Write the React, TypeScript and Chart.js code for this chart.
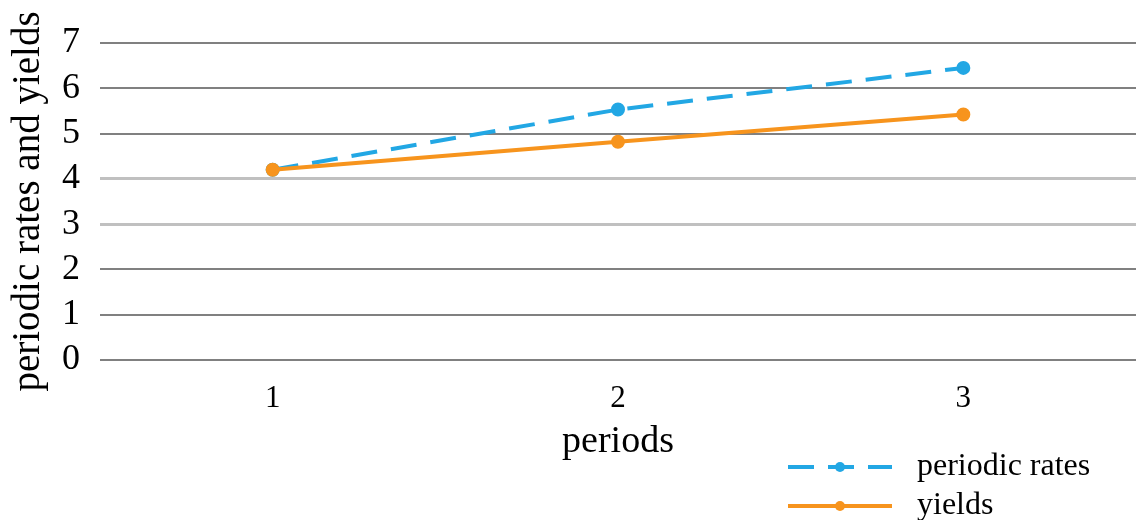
import React, { useEffect, useRef } from "react";
import { Chart, registerables } from "chart.js";

Chart.register(...registerables);

const periods = ["1", "2", "3"];
const periodicRates = [4.2, 5.53, 6.45];
const yields = [4.2, 4.82, 5.42];
const seriesLabels = ["periodic rates", "yields"];
const yTitle = "periodic rates and yields";
const xTitle = "periods";

const FONT = "'Liberation Serif', 'Times New Roman', serif";
const BLUE = "#22a7e4";
const ORANGE = "#f7941d";

const legendPlugin = {
  id: "customLegend",
  afterDraw(chart: any) {
    const ctx = chart.ctx;
    const ds = chart.data.datasets;
    const x0 = 788;
    const x1 = 892;
    const ys = [467, 506];
    ds.forEach((d: any, i: number) => {
      const y = ys[i];
      ctx.save();
      ctx.strokeStyle = d.borderColor;
      ctx.lineWidth = 4;
      ctx.setLineDash(d.borderDash || []);
      ctx.beginPath();
      ctx.moveTo(x0, y);
      ctx.lineTo(x1, y);
      ctx.stroke();
      ctx.setLineDash([]);
      ctx.fillStyle = d.pointBackgroundColor;
      ctx.beginPath();
      ctx.arc((x0 + x1) / 2, y, 5, 0, Math.PI * 2);
      ctx.fill();
      ctx.fillStyle = "#000";
      ctx.font = `32px ${FONT}`;
      ctx.textBaseline = "middle";
      ctx.textAlign = "left";
      ctx.fillText(d.label, 917, y);
      ctx.restore();
    });
  },
};

export default function App() {
  const ref = useRef<HTMLCanvasElement>(null);
  useEffect(() => {
    if (!ref.current) return;
    const chart = new Chart(ref.current, {
      type: "line",
      data: {
        labels: periods,
        datasets: [
          {
            label: seriesLabels[0],
            data: periodicRates,
            borderColor: BLUE,
            backgroundColor: BLUE,
            pointBackgroundColor: BLUE,
            pointBorderColor: BLUE,
            borderWidth: 4,
            borderDash: [26, 14],
            pointRadius: 5,
            tension: 0,
            order: 1,
          },
          {
            label: seriesLabels[1],
            data: yields,
            borderColor: ORANGE,
            backgroundColor: ORANGE,
            pointBackgroundColor: ORANGE,
            pointBorderColor: ORANGE,
            borderWidth: 4,
            pointRadius: 5,
            tension: 0,
            order: 0,
          },
        ],
      },
      options: {
        animation: false,
        responsive: false,
        layout: { autoPadding: false, padding: { left: 5, top: 43, right: 3, bottom: 55 } },
        plugins: {
          legend: { display: false },
          tooltip: { enabled: false },
        },
        scales: {
          x: {
            offset: true,
            grid: { display: false },
            border: { display: false },
            ticks: { color: "#000", font: { family: FONT, size: 31 }, padding: 12, maxRotation: 0 },
            title: {
              display: true,
              text: xTitle,
              color: "#000",
              font: { family: FONT, size: 38 },
              padding: { top: 0, bottom: 0 },
            },
            afterFit: (s: any) => {
              s.height = 105;
              s.paddingLeft = 0;
              s.paddingRight = 0;
            },
          },
          y: {
            min: 0,
            max: 7,
            grid: {
              drawTicks: false,
              color: (c: any) => (c.tick && (c.tick.value === 3 || c.tick.value === 4) ? "#c0c0c0" : "#808080"),
              lineWidth: (c: any) => (c.tick && (c.tick.value === 3 || c.tick.value === 4) ? 3 : 2),
            },
            border: { display: false },
            ticks: {
              stepSize: 1,
              autoSkip: false,
              color: "#000",
              font: { family: FONT, size: 36 },
              padding: 20,
            },
            title: {
              display: true,
              text: yTitle,
              color: "#000",
              font: { family: FONT, size: 39 },
              padding: { top: 0, bottom: 0 },
            },
            afterFit: (s: any) => {
              s.width = 95;
            },
          },
        },
      },
      plugins: [legendPlugin],
    });
    return () => chart.destroy();
  }, []);
  return (
    <div style={{ position: "absolute", left: 0, top: 0, width: 1139, height: 520, background: "#fff" }}>
      <canvas ref={ref} width={1139} height={520} style={{ width: 1139, height: 520 }} />
    </div>
  );
}
